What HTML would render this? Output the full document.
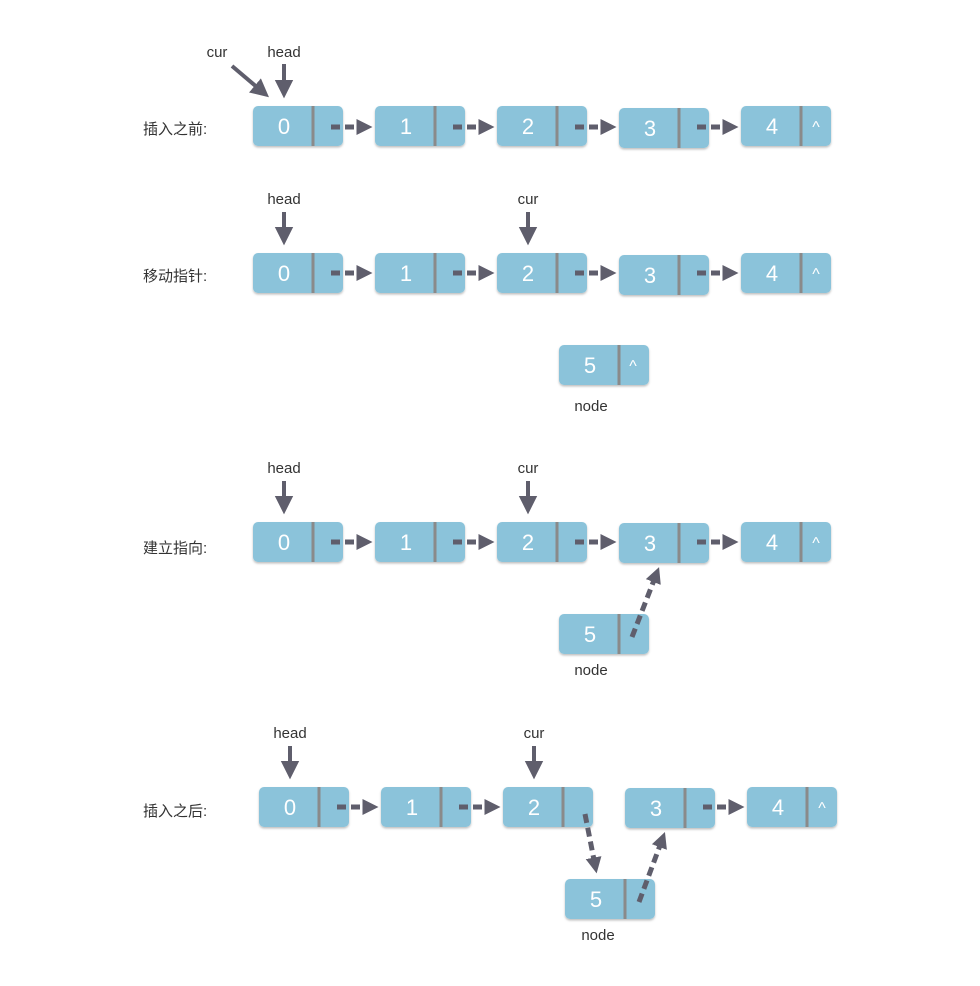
<!DOCTYPE html>
<html><head><meta charset="utf-8"><style>
html,body{margin:0;padding:0;background:#fff;}
svg{display:block;}
.n{fill:#8bc3da;}
.d{stroke:#8a8a8a;stroke-width:3;}
.t{fill:#fff;font-family:"Liberation Sans",sans-serif;font-size:22px;text-anchor:middle;}
.c{fill:#fff;font-family:"Liberation Sans",sans-serif;font-size:16px;text-anchor:middle;}
.l{fill:#333;font-family:"Liberation Sans","Noto Sans CJK SC",sans-serif;font-size:15px;}
.lb{fill:#333;font-family:"Liberation Sans",sans-serif;font-size:15px;text-anchor:middle;}
.da{stroke:#5f5e6c;stroke-width:5;stroke-dasharray:9,5;fill:none;}
.sa{stroke:#5f5e6c;stroke-width:4;fill:none;}
</style></head><body>
<svg width="980" height="986" viewBox="0 0 980 986" xmlns="http://www.w3.org/2000/svg">
<defs>
<marker id="ah" markerWidth="4" markerHeight="4" refX="1.5" refY="2" orient="auto" markerUnits="strokeWidth"><path d="M0,0.4 L3.2,2 L0,3.6 Z" fill="#5f5e6c"/></marker>
<marker id="vh" markerWidth="5" markerHeight="5" refX="1" refY="2.5" orient="auto" markerUnits="strokeWidth"><path d="M0,0.2 L4.6,2.5 L0,4.8 Z" fill="#5f5e6c"/></marker>
<filter id="sh" x="-10%" y="-10%" width="120%" height="130%"><feDropShadow dx="0" dy="1.5" stdDeviation="1" flood-color="#000" flood-opacity="0.25"/></filter>
</defs>

<!-- Row 1 -->
<text class="l" x="143" y="134">插入之前:</text>
<text class="lb" x="217" y="57">cur</text>
<text class="lb" x="284" y="57">head</text>
<line class="sa" x1="232" y1="66" x2="258" y2="88" marker-end="url(#vh)"/>
<line class="sa" x1="284" y1="64" x2="284" y2="84" marker-end="url(#vh)"/>
<g filter="url(#sh)">
<rect class="n" x="253" y="106" width="90" height="40" rx="5"/>
<rect class="n" x="375" y="106" width="90" height="40" rx="5"/>
<rect class="n" x="497" y="106" width="90" height="40" rx="5"/>
<rect class="n" x="619" y="108" width="90" height="40" rx="5"/>
<rect class="n" x="741" y="106" width="90" height="40" rx="5"/>
</g>
<line class="d" x1="313" y1="106" x2="313" y2="146"/><line class="d" x1="435" y1="106" x2="435" y2="146"/><line class="d" x1="557" y1="106" x2="557" y2="146"/><line class="d" x1="679" y1="108" x2="679" y2="148"/><line class="d" x1="801" y1="106" x2="801" y2="146"/>
<text class="t" x="284" y="134">0</text><text class="t" x="406" y="134">1</text><text class="t" x="528" y="134">2</text><text class="t" x="650" y="136">3</text><text class="t" x="772" y="134">4</text><text class="c" x="816" y="132">^</text>
<line class="da" x1="331" y1="127" x2="364" y2="127" marker-end="url(#ah)"/>
<line class="da" x1="453" y1="127" x2="486" y2="127" marker-end="url(#ah)"/>
<line class="da" x1="575" y1="127" x2="608" y2="127" marker-end="url(#ah)"/>
<line class="da" x1="697" y1="127" x2="730" y2="127" marker-end="url(#ah)"/>

<!-- Row 2 -->
<text class="l" x="143" y="281">移动指针:</text>
<text class="lb" x="284" y="204">head</text>
<text class="lb" x="528" y="204">cur</text>
<line class="sa" x1="284" y1="212" x2="284" y2="231" marker-end="url(#vh)"/>
<line class="sa" x1="528" y1="212" x2="528" y2="231" marker-end="url(#vh)"/>
<g filter="url(#sh)">
<rect class="n" x="253" y="253" width="90" height="40" rx="5"/>
<rect class="n" x="375" y="253" width="90" height="40" rx="5"/>
<rect class="n" x="497" y="253" width="90" height="40" rx="5"/>
<rect class="n" x="619" y="255" width="90" height="40" rx="5"/>
<rect class="n" x="741" y="253" width="90" height="40" rx="5"/>
<rect class="n" x="559" y="345" width="90" height="40" rx="5"/>
</g>
<line class="d" x1="313" y1="253" x2="313" y2="293"/><line class="d" x1="435" y1="253" x2="435" y2="293"/><line class="d" x1="557" y1="253" x2="557" y2="293"/><line class="d" x1="679" y1="255" x2="679" y2="295"/><line class="d" x1="801" y1="253" x2="801" y2="293"/><line class="d" x1="619" y1="345" x2="619" y2="385"/>
<text class="t" x="284" y="281">0</text><text class="t" x="406" y="281">1</text><text class="t" x="528" y="281">2</text><text class="t" x="650" y="283">3</text><text class="t" x="772" y="281">4</text><text class="c" x="816" y="279">^</text>
<text class="t" x="590" y="373">5</text><text class="c" x="633" y="371">^</text>
<text class="lb" x="591" y="411">node</text>
<line class="da" x1="331" y1="273" x2="364" y2="273" marker-end="url(#ah)"/>
<line class="da" x1="453" y1="273" x2="486" y2="273" marker-end="url(#ah)"/>
<line class="da" x1="575" y1="273" x2="608" y2="273" marker-end="url(#ah)"/>
<line class="da" x1="697" y1="273" x2="730" y2="273" marker-end="url(#ah)"/>

<!-- Row 3 -->
<text class="l" x="143" y="553">建立指向:</text>
<text class="lb" x="284" y="473">head</text>
<text class="lb" x="528" y="473">cur</text>
<line class="sa" x1="284" y1="481" x2="284" y2="500" marker-end="url(#vh)"/>
<line class="sa" x1="528" y1="481" x2="528" y2="500" marker-end="url(#vh)"/>
<g filter="url(#sh)">
<rect class="n" x="253" y="522" width="90" height="40" rx="5"/>
<rect class="n" x="375" y="522" width="90" height="40" rx="5"/>
<rect class="n" x="497" y="522" width="90" height="40" rx="5"/>
<rect class="n" x="619" y="523" width="90" height="40" rx="5"/>
<rect class="n" x="741" y="522" width="90" height="40" rx="5"/>
<rect class="n" x="559" y="614" width="90" height="40" rx="5"/>
</g>
<line class="d" x1="313" y1="522" x2="313" y2="562"/><line class="d" x1="435" y1="522" x2="435" y2="562"/><line class="d" x1="557" y1="522" x2="557" y2="562"/><line class="d" x1="679" y1="523" x2="679" y2="563"/><line class="d" x1="801" y1="522" x2="801" y2="562"/><line class="d" x1="619" y1="614" x2="619" y2="654"/>
<text class="t" x="284" y="550">0</text><text class="t" x="406" y="550">1</text><text class="t" x="528" y="550">2</text><text class="t" x="650" y="551">3</text><text class="t" x="772" y="550">4</text><text class="c" x="816" y="548">^</text>
<text class="t" x="590" y="642">5</text>
<text class="lb" x="591" y="675">node</text>
<line class="da" x1="331" y1="542" x2="364" y2="542" marker-end="url(#ah)"/>
<line class="da" x1="453" y1="542" x2="486" y2="542" marker-end="url(#ah)"/>
<line class="da" x1="575" y1="542" x2="608" y2="542" marker-end="url(#ah)"/>
<line class="da" x1="697" y1="542" x2="730" y2="542" marker-end="url(#ah)"/>
<line class="da" x1="632" y1="637" x2="656" y2="575" marker-end="url(#ah)"/>

<!-- Row 4 -->
<text class="l" x="143" y="816">插入之后:</text>
<text class="lb" x="290" y="738">head</text>
<text class="lb" x="534" y="738">cur</text>
<line class="sa" x1="290" y1="746" x2="290" y2="765" marker-end="url(#vh)"/>
<line class="sa" x1="534" y1="746" x2="534" y2="765" marker-end="url(#vh)"/>
<g filter="url(#sh)">
<rect class="n" x="259" y="787" width="90" height="40" rx="5"/>
<rect class="n" x="381" y="787" width="90" height="40" rx="5"/>
<rect class="n" x="503" y="787" width="90" height="40" rx="5"/>
<rect class="n" x="625" y="788" width="90" height="40" rx="5"/>
<rect class="n" x="747" y="787" width="90" height="40" rx="5"/>
<rect class="n" x="565" y="879" width="90" height="40" rx="5"/>
</g>
<line class="d" x1="319" y1="787" x2="319" y2="827"/><line class="d" x1="441" y1="787" x2="441" y2="827"/><line class="d" x1="563" y1="787" x2="563" y2="827"/><line class="d" x1="685" y1="788" x2="685" y2="828"/><line class="d" x1="807" y1="787" x2="807" y2="827"/><line class="d" x1="625" y1="879" x2="625" y2="919"/>
<text class="t" x="290" y="815">0</text><text class="t" x="412" y="815">1</text><text class="t" x="534" y="815">2</text><text class="t" x="656" y="816">3</text><text class="t" x="778" y="815">4</text><text class="c" x="822" y="813">^</text>
<text class="t" x="596" y="907">5</text>
<text class="lb" x="598" y="940">node</text>
<line class="da" x1="337" y1="807" x2="370" y2="807" marker-end="url(#ah)"/>
<line class="da" x1="459" y1="807" x2="492" y2="807" marker-end="url(#ah)"/>
<line class="da" x1="703" y1="807" x2="736" y2="807" marker-end="url(#ah)"/>
<line class="da" x1="585" y1="814" x2="595" y2="865" marker-end="url(#ah)"/>
<line class="da" x1="639" y1="902" x2="662" y2="840" marker-end="url(#ah)"/>
</svg>
</body></html>
